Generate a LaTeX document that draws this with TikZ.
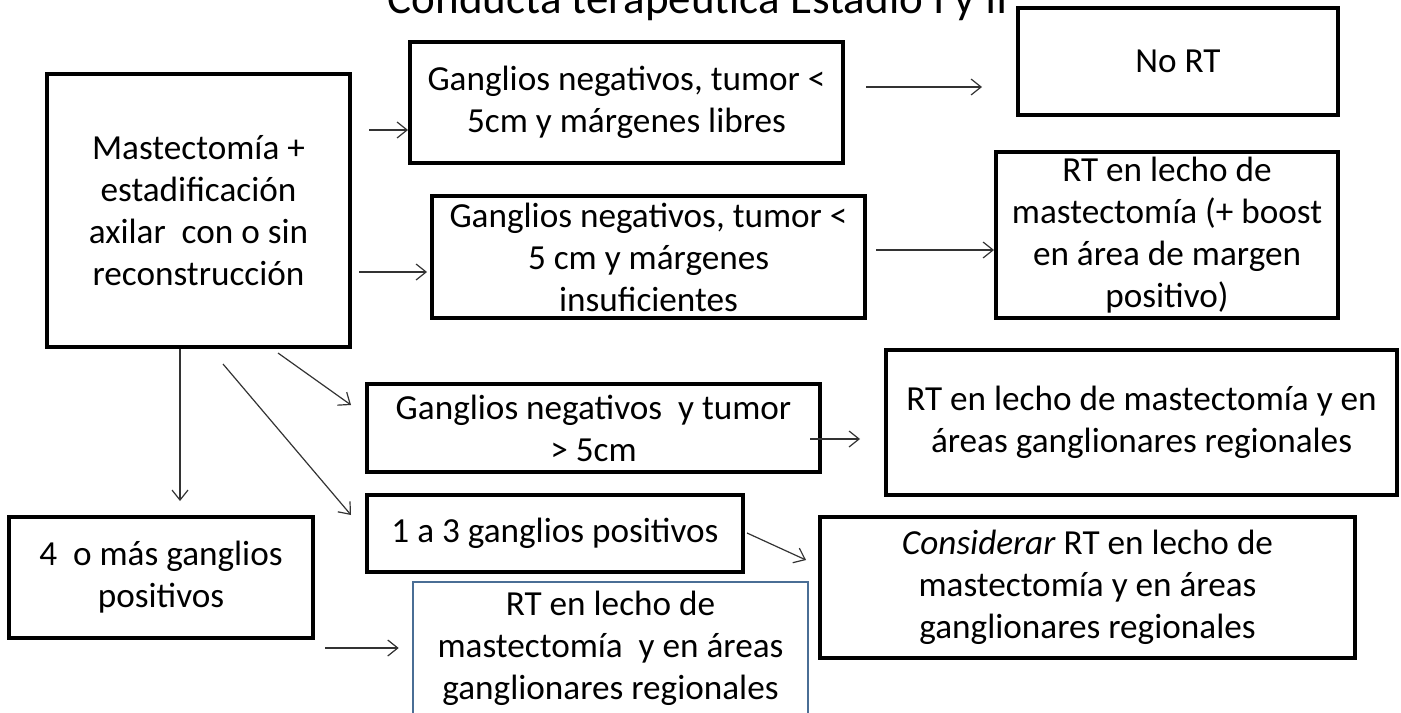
\documentclass[tikz,border=0pt]{standalone}
\usepackage{fontspec}
\setmainfont{Carlito}
\usetikzlibrary{arrows.meta}
\usetikzlibrary{calc}
\definecolor{azulborde}{HTML}{4A6E95}
\tikzset{caja/.style={draw,line width=2pt,align=center,inner sep=0pt,font=\fontsize{17.6}{21}\selectfont}}
\tikzset{cajaazul/.style={caja,draw=azulborde,line width=1.3pt}}
\tikzset{flecha/.style={-{Straight Barb[length=5pt,width=8pt]},line width=0.6pt,draw=black!80}}

\begin{document}
\begin{tikzpicture}[x=0.5pt,y=-0.5pt]
  \clip (0,0) rectangle (1401,712);
  \node[anchor=base,font=\fontsize{22.5}{27}\selectfont] (titulo) at (698,13) {Conducta terapéutica Estadio I y II};
  % cajas
  \node[caja,minimum width=151.5pt,minimum height=136.5pt] (mastec) at (198.5,210.5)
    {Mastectomía +\\estadificación\\axilar\ \ con o sin\\reconstrucción};
  \node[caja,minimum width=216.5pt,minimum height=60.5pt] (libres) at (626.5,102.5)
    {Ganglios negativos, tumor <\\5cm y márgenes libres};
  \node[caja,minimum width=160pt,minimum height=53.5pt] (nort) at (1178,61.5) {No RT};
  \node[caja,minimum width=216.5pt,minimum height=61pt] (insuf) at (648.5,257)
    {Ganglios negativos, tumor <\\5 cm y márgenes\\insuficientes};
  \node[caja,minimum width=171pt,minimum height=83pt] (boost) at (1167,235)
    {RT en lecho de\\mastectomía (+ boost\\en área de margen\\positivo)};
  \node[caja,minimum width=226.5pt,minimum height=44pt] (mayor) at (593.5,428)
    {Ganglios negativos\ \ y tumor\\> 5cm};
  \node[caja,minimum width=255.5pt,minimum height=72.5pt] (areas) at (1141.5,422.5)
    {RT en lecho de mastectomía y en\\áreas ganglionares regionales};
  \node[caja,minimum width=188pt,minimum height=38.5pt] (unoatres) at (555,533.5)
    {1 a 3 ganglios positivos};
  \node[caja,minimum width=267.5pt,minimum height=70.5pt] (considerar) at (1087.5,587.5)
    {\textit{Considerar} RT en lecho de\\mastectomía y en áreas\\ganglionares regionales};
  \node[caja,minimum width=152pt,minimum height=60.5pt] (cuatro) at (161,577.5)
    {4\ \ o más ganglios\\positivos};
  \node[cajaazul,minimum width=197.5pt,minimum height=66pt] (regional) at (610.5,648)
    {RT en lecho de\\mastectomía\ \ y en áreas\\ganglionares regionales};
  % flechas
  \draw[flecha] ($(mastec.east)+(17,-80.5)$) -- ($(libres.west)+(0,27.5)$);
  \draw[flecha] ($(mastec.east)+(7,61.5)$) -- ($(insuf.west)+(-3,15)$);
  \draw[flecha] ($(libres.east)+(21,-15.5)$) -- ($(nort.west)+(-34,25.5)$);
  \draw[flecha] ($(insuf.east)+(9,-7)$) -- ($(boost.west)+(0,15)$);
  \draw[flecha] ($(mastec.south)+(79.5,4)$) -- ($(mayor.west)+(-14,-23)$);
  \draw[flecha] ($(mastec.south)+(24.5,15)$) -- ($(unoatres.west)+(-14,-18.5)$);
  \draw[flecha] ($(mastec.south)+(-18.5,0)$) -- ($(cuatro.north)+(19,-14)$);
  \draw[flecha] ($(cuatro.east)+(10,70.5)$) -- ($(regional.west)+(-13,0)$);
  \draw[flecha] ($(mayor.east)+(-12,11)$) -- ($(areas.west)+(-24,16.5)$);
  \draw[flecha] ($(unoatres.east)+(2,-0.5)$) -- ($(considerar.west)+(-12,-27.5)$);
\end{tikzpicture}
\end{document}
